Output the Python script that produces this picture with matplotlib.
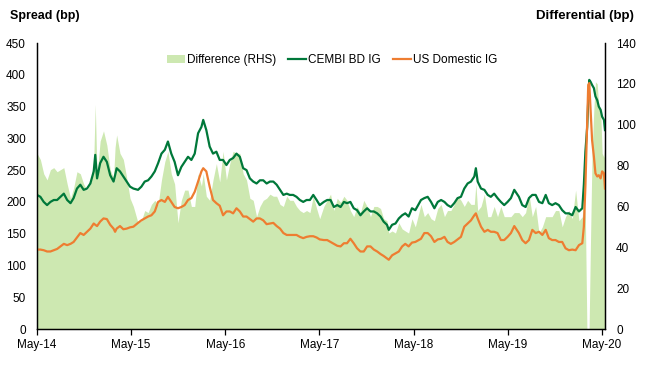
"""
CEMBI BD IG vs US Domestic IG spreads, with the spread difference on the right axis.

Output: out.png
"""

import matplotlib

matplotlib.use("Agg")
import matplotlib.dates as mdates
import matplotlib.pyplot as plt
import pandas as pd
from matplotlib.lines import Line2D
from matplotlib.patches import Patch

plt.rcParams["font.family"] = ["Liberation Sans", "DejaVu Sans"]

# Readings every two weeks (bp)
DATES = [
    "2014-05-01", "2014-05-14", "2014-05-27", "2014-06-09", "2014-06-22", "2014-07-05",
    "2014-07-18", "2014-07-31", "2014-08-13", "2014-08-26", "2014-09-08", "2014-09-20",
    "2014-10-03", "2014-10-16", "2014-10-29", "2014-11-11", "2014-11-24", "2014-12-07",
    "2014-12-13", "2014-12-20", "2015-01-01", "2015-01-14", "2015-01-27", "2015-02-09",
    "2015-02-22", "2015-02-28", "2015-03-06", "2015-03-19", "2015-04-01", "2015-04-14",
    "2015-04-27", "2015-05-10",
    "2015-05-28", "2015-06-10", "2015-06-23", "2015-07-06", "2015-07-19", "2015-08-01",
    "2015-08-14", "2015-08-27", "2015-09-09", "2015-09-21", "2015-10-04", "2015-10-17",
    "2015-10-30", "2015-11-12", "2015-11-25", "2015-12-08", "2015-12-21", "2016-01-03",
    "2016-01-16", "2016-01-29", "2016-02-05", "2016-02-17", "2016-03-01", "2016-03-14",
    "2016-03-27", "2016-04-09", "2016-04-22", "2016-05-05",
    "2016-05-18", "2016-05-31", "2016-06-13", "2016-06-26", "2016-07-09", "2016-07-22",
    "2016-08-04", "2016-08-17", "2016-08-30", "2016-09-12", "2016-09-25", "2016-10-08",
    "2016-10-21", "2016-11-03", "2016-11-16", "2016-11-29", "2016-12-12", "2016-12-25",
    "2017-01-06", "2017-01-19", "2017-02-01", "2017-02-14", "2017-02-27", "2017-03-12",
    "2017-03-25", "2017-04-07", "2017-04-20", "2017-05-02",
    "2017-05-18", "2017-05-31", "2017-06-13", "2017-06-26", "2017-07-09", "2017-07-22",
    "2017-08-04", "2017-08-16", "2017-08-29", "2017-09-11", "2017-09-24", "2017-10-07",
    "2017-10-20", "2017-11-02", "2017-11-15", "2017-11-28", "2017-12-11", "2017-12-24",
    "2018-01-05", "2018-01-18", "2018-01-25", "2018-02-07", "2018-02-20", "2018-03-05",
    "2018-03-18", "2018-03-30", "2018-04-12", "2018-04-25", "2018-05-08",
    "2018-05-30", "2018-06-12", "2018-06-25", "2018-07-08", "2018-07-21", "2018-08-03",
    "2018-08-16", "2018-08-29", "2018-09-10", "2018-09-23", "2018-10-06", "2018-10-19",
    "2018-11-01", "2018-11-14", "2018-11-27", "2018-12-10", "2018-12-23", "2018-12-29",
    "2019-01-05", "2019-01-18", "2019-01-31", "2019-02-13", "2019-02-25", "2019-03-10",
    "2019-03-23", "2019-04-05", "2019-04-18", "2019-05-01", "2019-05-14",
    "2019-05-27", "2019-06-14", "2019-06-27", "2019-07-10", "2019-07-23", "2019-08-05",
    "2019-08-18", "2019-08-31", "2019-09-13", "2019-09-26", "2019-10-08", "2019-10-21",
    "2019-11-03", "2019-11-16", "2019-11-29", "2019-12-12", "2019-12-25", "2020-01-07",
    "2020-01-20", "2020-02-02", "2020-02-15", "2020-02-21", "2020-02-27", "2020-03-05",
    "2020-03-09", "2020-03-13", "2020-03-18", "2020-03-24", "2020-03-31", "2020-04-06",
    "2020-04-13", "2020-04-19", "2020-04-26", "2020-05-02", "2020-05-09", "2020-05-13",
]

CEMBI_BD_IG = [
    211, 208, 200, 195, 200, 203, 203, 208, 213, 203, 198, 206, 221, 227, 219, 221,
    229, 248, 274, 237, 261, 271, 263, 242, 232, 242, 253, 248, 240, 232, 224, 221,
    219, 224, 232, 234, 240, 248, 261, 276, 282, 295, 276, 263, 242, 255, 263, 271,
    266, 276, 308, 318, 329, 313, 287, 276, 279, 266, 266, 258,
    266, 269, 276, 271, 253, 250, 237, 232, 229, 234, 234, 229, 232, 232, 227, 219,
    211, 213, 211, 211, 208, 203, 200, 203, 203, 211, 203, 195,
    200, 203, 203, 192, 195, 192, 200, 198, 200, 190, 187, 179, 185, 190, 185, 185,
    182, 177, 169, 164, 156, 164, 166, 174, 179, 182, 177, 190, 187,
    203, 206, 208, 200, 190, 200, 203, 200, 195, 192, 198, 206, 208, 221, 229, 232,
    240, 253, 232, 221, 219, 211, 208, 213, 206, 200, 195, 200, 206,
    219, 208, 195, 192, 206, 211, 211, 200, 198, 211, 198, 195, 198, 195, 187, 182,
    182, 179, 192, 185, 190, 227, 279, 318, 360, 392, 389, 384, 379, 366, 360, 350,
    345, 334, 329, 313,
]

US_DOMESTIC_IG = [
    125, 125, 124, 122, 122, 124, 126, 130, 134, 132, 134, 137, 144, 151, 148, 153,
    158, 166, 164, 162, 169, 174, 173, 164, 158, 153, 158, 162, 157, 158, 160, 161,
    167, 171, 174, 177, 179, 185, 200, 203, 200, 208, 200, 192, 190, 192, 195, 203,
    206, 216, 232, 248, 253, 248, 224, 203, 198, 194, 179, 185,
    185, 182, 190, 185, 177, 177, 173, 169, 174, 174, 171, 165, 166, 167, 162, 158,
    151, 148, 148, 148, 148, 145, 143, 145, 146, 146, 144, 141,
    140, 140, 137, 134, 131, 130, 135, 135, 142, 135, 127, 122, 122, 130, 130, 125,
    122, 118, 115, 111, 109, 116, 119, 122, 130, 134, 130, 136, 137,
    142, 151, 151, 146, 137, 141, 142, 145, 137, 134, 137, 141, 145, 161, 166, 171,
    179, 182, 174, 161, 153, 156, 153, 153, 151, 140, 140, 145, 151,
    162, 151, 140, 135, 140, 156, 151, 153, 148, 156, 143, 140, 140, 137, 137, 127,
    124, 125, 124, 132, 135, 161, 224, 329, 384, 387, 345, 297, 271, 245, 240, 242,
    237, 248, 245, 221,
]

LEFT_TICKS = list(range(0, 451, 50))
RIGHT_TICKS = list(range(0, 141, 20))

AREA_COLOR = "#cde8b1"
CEMBI_COLOR = "#00783a"
US_COLOR = "#ee7d31"


def plot():
    df = pd.DataFrame({
        "date": pd.to_datetime(DATES),
        "cembi": CEMBI_BD_IG,
        "us": US_DOMESTIC_IG,
    })
    df["diff"] = df["cembi"] - df["us"]

    fig = plt.figure(figsize=(6.46, 3.66), dpi=100)
    fig.subplots_adjust(left=0.0573, right=0.9365, bottom=0.101, top=0.8825)
    ax = fig.add_subplot(111)
    ax2 = ax.twinx()

    # Difference area on the right axis, behind the lines
    ax2.fill_between(df["date"], 0, df["diff"], color=AREA_COLOR, linewidth=0)
    ax2.set_ylim(0, 140)
    ax2.set_yticks(RIGHT_TICKS)

    ax.set_zorder(ax2.get_zorder() + 1)
    ax.patch.set_visible(False)
    ax.plot(df["date"], df["cembi"], color=CEMBI_COLOR, linewidth=1.6)
    ax.plot(df["date"], df["us"], color=US_COLOR, linewidth=1.6)
    ax.set_ylim(0, 450)
    ax.set_yticks(LEFT_TICKS)
    ax.set_xlim(df["date"].iloc[0], df["date"].iloc[-1])

    ax.xaxis.set_major_locator(mdates.MonthLocator(bymonth=5, bymonthday=1))
    ax.xaxis.set_major_formatter(mdates.DateFormatter("%b-%y"))

    for a in (ax, ax2):
        a.spines["top"].set_visible(False)
        for s in ("left", "right", "bottom"):
            a.spines[s].set_color("black")
            a.spines[s].set_linewidth(0.9)
        a.tick_params(axis="y", length=0, labelsize=8.5, pad=8)
        a.tick_params(axis="x", length=4, width=0.9, direction="out", labelsize=8.5, pad=3)

    fig.text(0.015, 0.955, "Spread (bp)", fontsize=9, fontweight="bold", va="center", ha="left")
    fig.text(0.982, 0.955, "Differential (bp)", fontsize=9.5, fontweight="bold", va="center", ha="right")

    handles = [
        Patch(facecolor=AREA_COLOR, edgecolor="none", label="Difference (RHS)"),
        Line2D([0], [0], color=CEMBI_COLOR, linewidth=1.6, label="CEMBI BD IG"),
        Line2D([0], [0], color=US_COLOR, linewidth=1.6, label="US Domestic IG"),
    ]
    ax.legend(handles=handles, loc="center", bbox_to_anchor=(0.52, 0.94), ncol=3,
              frameon=False, fontsize=8.5, handlelength=1.5, handleheight=0.6,
              handletextpad=0.2, columnspacing=1.0)

    fig.savefig("out.png", dpi=100)


if __name__ == "__main__":
    plot()
